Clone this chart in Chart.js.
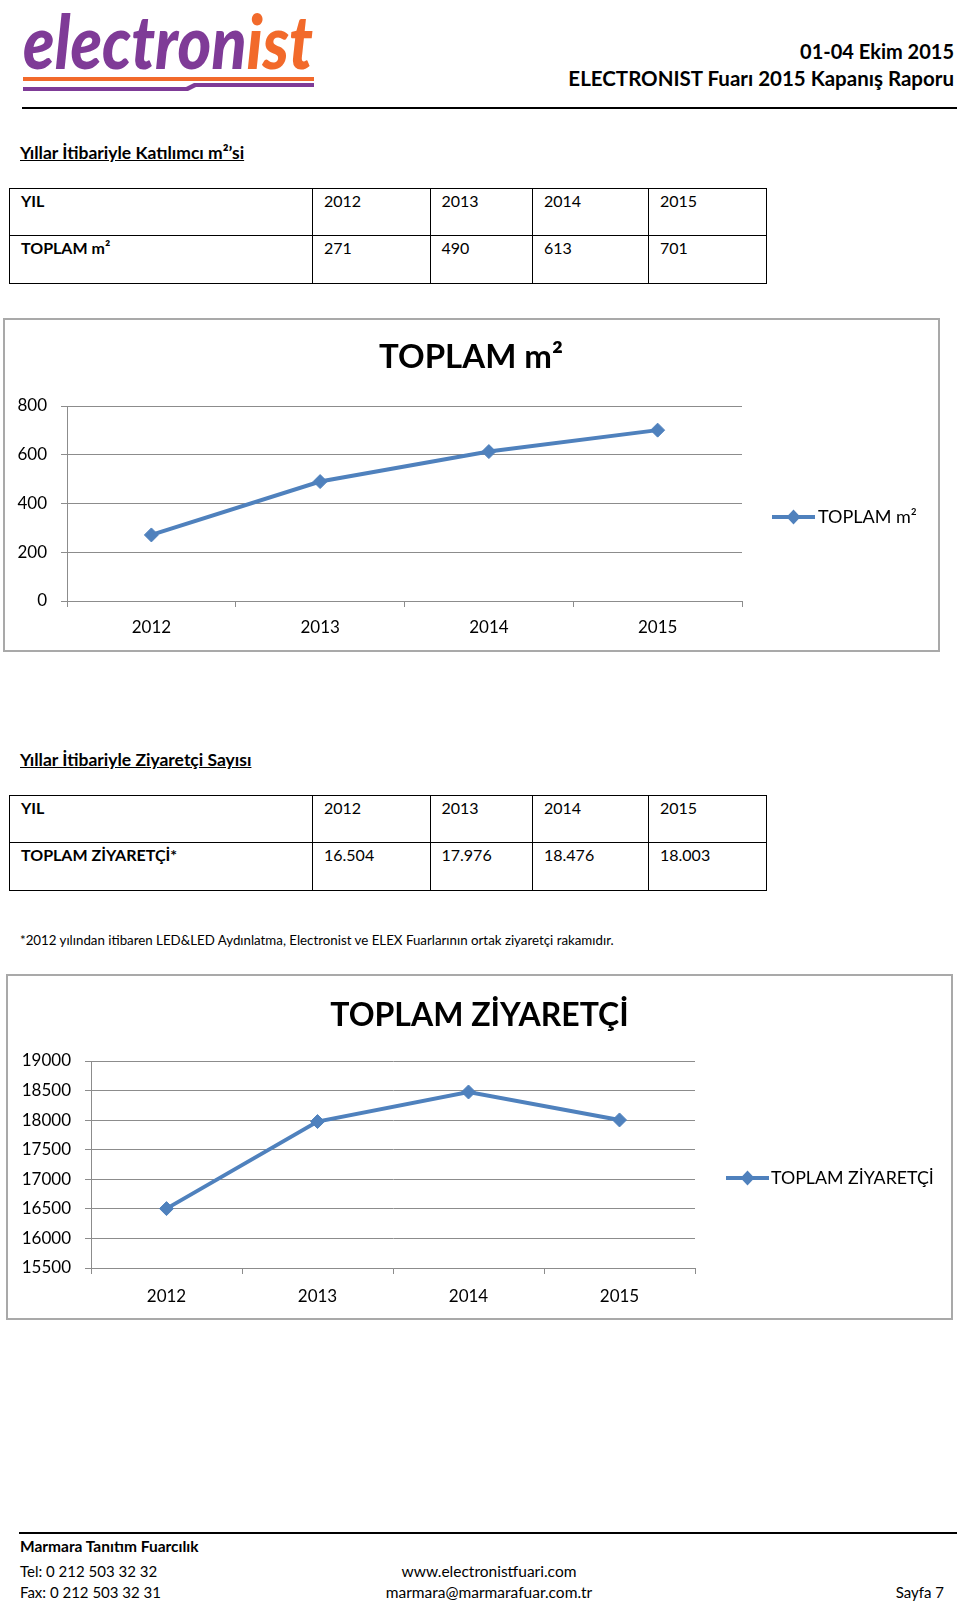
<!DOCTYPE html>
<html lang="tr">
<head>
<meta charset="utf-8">
<title>ELECTRONIST Fuarı 2015 Kapanış Raporu</title>
<script src="https://cdn.jsdelivr.net/npm/chart.js@4.4.1/dist/chart.umd.min.js"></script>
<style>
  body { margin: 0; background: #fff; }
  #page { position: relative; width: 960px; height: 1604px; overflow: hidden; font-family: Lato, "Open Sans", sans-serif; color: #000; }
  .txt { position: absolute; white-space: nowrap; line-height: 1.2; }
  .bold { font-weight: bold; }
  .rule { position: absolute; background: #000; }
  .frame { position: absolute; box-sizing: border-box; border: 2px solid #a9a9a9; }
  canvas { position: absolute; }
  table { position: absolute; border-collapse: collapse; font-size: 16px; }
  td { border: 1px solid #000; padding: 2px 11px 0 11px; vertical-align: top; line-height: 1.2; box-sizing: border-box; }
</style>
</head>
<body>
<div id="page">
  <svg style="position:absolute;left:0;top:0" width="340" height="100">
    <text x="23" y="69" font-family="Lato" font-weight="900" font-style="italic" font-size="74" textLength="290" lengthAdjust="spacingAndGlyphs" fill="#7f3b97">electron<tspan fill="#f26a2b">ist</tspan></text>
    <rect x="23" y="77" width="291" height="4" fill="#f26a2b"/>
    <path d="M23 87 L186 87 L194 83 L314 83 L314 87 L196 87 L188 91 L23 91 Z" fill="#7f3b97"/>
  </svg>
  <div class="txt bold" style="right:6px;top:39px;font-size:20px">01-04 Ekim 2015</div>
  <div class="txt bold" style="right:6px;top:66px;font-size:20.5px">ELECTRONIST Fuarı 2015 Kapanış Raporu</div>
  <div class="rule" style="left:22px;top:107px;width:935px;height:2px"></div>

  <div class="txt bold" style="left:20px;top:142px;font-size:17.5px;text-decoration:underline">Yıllar İtibariyle Katılımcı m²’si</div>
  <table id="areaTable" style="left:9px;top:188px"></table>

  <div class="frame" style="left:3px;top:318px;width:937px;height:334px"></div>
  <canvas id="areaChart" style="left:4px;top:319px"></canvas>

  <div class="txt bold" style="left:20px;top:749px;font-size:17.5px;text-decoration:underline">Yıllar İtibariyle Ziyaretçi Sayısı</div>
  <table id="visitorTable" style="left:9px;top:795px"></table>
  <div class="txt" style="left:20px;top:933px;font-size:13.3px">*2012 yılından itibaren LED&amp;LED Aydınlatma, Electronist ve ELEX Fuarlarının ortak ziyaretçi rakamıdır.</div>

  <div class="frame" style="left:6px;top:974px;width:947px;height:346px"></div>
  <canvas id="visitorChart" style="left:7px;top:975px"></canvas>

  <div class="rule" style="left:19px;top:1532px;width:938px;height:2px"></div>
  <div class="txt bold" style="left:20px;top:1537px;font-size:15.5px">Marmara Tanıtım Fuarcılık</div>
  <div class="txt" style="left:20px;top:1562px;font-size:15px">Tel: 0 212 503 32 32</div>
  <div class="txt" style="left:20px;top:1583px;font-size:15px">Fax: 0 212 503 32 31</div>
  <div class="txt" style="left:489px;top:1562px;font-size:15.5px;transform:translateX(-50%)">www.electronistfuari.com</div>
  <div class="txt" style="left:489px;top:1583px;font-size:15.5px;transform:translateX(-50%)">marmara@marmarafuar.com.tr</div>
  <div class="txt" style="right:16px;top:1583px;font-size:15px">Sayfa 7</div>
</div>

<script>
// Data
const years = ['2012', '2013', '2014', '2015'];
const areaValues = [271, 490, 613, 701];
const visitorValues = [16504, 17976, 18476, 18003];
const areaTicks = [0, 200, 400, 600, 800];
const visitorTicks = [15500, 16000, 16500, 17000, 17500, 18000, 18500, 19000];
const areaLabel = 'TOPLAM m²';
const visitorLabel = 'TOPLAM ZİYARETÇİ';

const BLUE = '#4f81bd';
const GRID = '#8c8c8c';
const colWidths = [303, 117.5, 102.5, 116, 118];

Chart.defaults.font.family = 'Lato, "Open Sans", sans-serif';
Chart.defaults.color = '#000';

// Fill a two row table: years on top, values below
function fillTable(id, rowName, values) {
  const table = document.getElementById(id);
  const rows = [['YIL'].concat(years), [rowName].concat(values)];
  rows.forEach((cells, r) => {
    const tr = document.createElement('tr');
    tr.style.height = (r === 0 ? 47 : 48) + 'px';
    cells.forEach((text, c) => {
      const td = document.createElement('td');
      td.textContent = text;
      td.style.width = colWidths[c] + 'px';
      if (c === 0) td.style.fontWeight = 'bold';
      tr.appendChild(td);
    });
    table.appendChild(tr);
  });
}

fillTable('areaTable', 'TOPLAM m²', areaValues.map(String));
fillTable('visitorTable', 'TOPLAM ZİYARETÇİ*', visitorValues.map(v => (v / 1000).toFixed(3)));

// Legend symbol: short line with a diamond, as in Excel
function legendIcon() {
  const c = document.createElement('canvas');
  c.width = 43;
  c.height = 16;
  const g = c.getContext('2d');
  g.strokeStyle = BLUE;
  g.lineWidth = 4;
  g.beginPath();
  g.moveTo(0, 8);
  g.lineTo(43, 8);
  g.stroke();
  g.fillStyle = BLUE;
  g.beginPath();
  g.moveTo(21.5, 0.5);
  g.lineTo(28.5, 8);
  g.lineTo(21.5, 15.5);
  g.lineTo(14.5, 8);
  g.closePath();
  g.fill();
  return c;
}

// Excel style legend to the right of the plot.
// (the built in legend box gets clamped to a quarter of the canvas width)
const sideLegend = {
  id: 'sideLegend',
  afterDraw(chart, args, opts) {
    const ctx = chart.ctx;
    const x = chart.chartArea.right + opts.gap;
    ctx.save();
    ctx.drawImage(legendIcon(), x, opts.y - 8);
    ctx.fillStyle = '#000';
    ctx.font = opts.size + 'px ' + Chart.defaults.font.family;
    ctx.textBaseline = 'middle';
    ctx.fillText(chart.data.datasets[0].label, x + opts.textGap, opts.y);
    ctx.restore();
  }
};

// g: canvas size and wanted plot area (canvas coordinates)
function makeChart(id, label, values, ticks, g) {
  const canvas = document.getElementById(id);
  canvas.width = g.w;
  canvas.height = g.h;

  return new Chart(canvas.getContext('2d'), {
    type: 'line',
    plugins: [sideLegend],
    data: {
      labels: years,
      datasets: [{
        label: label,
        data: values,
        borderColor: BLUE,
        backgroundColor: BLUE,
        borderWidth: 4,
        tension: 0,
        pointStyle: 'rectRot',
        pointRadius: 7,
        pointHoverRadius: 7,
        pointBorderWidth: 1
      }]
    },
    options: {
      responsive: false,
      animation: false,
      events: [],
      plugins: {
        tooltip: { enabled: false },
        legend: { display: false },
        sideLegend: { gap: g.legendGap, textGap: g.textGap, size: g.legendSize, y: g.legendY },
        title: {
          display: true,
          text: label,
          color: '#000',
          font: { size: g.titleSize, weight: 'bold' },
          padding: { top: g.titleTop, bottom: g.top - g.titleTop - g.titleSize * 1.2 }
        }
      },
      scales: {
        x: {
          offset: true,
          grid: { offset: true, drawOnChartArea: false, tickLength: 6, color: GRID },
          border: { color: GRID },
          ticks: { color: '#000', font: { size: 17 }, padding: g.xPad, maxRotation: 0 },
          afterFit: s => { s.height = g.h - g.bottom; }
        },
        y: {
          min: ticks[0],
          max: ticks[ticks.length - 1],
          afterBuildTicks: s => { s.ticks = ticks.map(v => ({ value: v })); },
          grid: { color: GRID, tickLength: 6 },
          border: { color: GRID },
          ticks: { color: '#000', font: { size: 17 }, padding: 14, callback: v => String(v) },
          afterFit: s => { s.width = g.left; }
        },
        // empty right side box that keeps room for the legend
        side: {
          position: 'right',
          grid: { display: false },
          border: { display: false },
          ticks: { display: false },
          afterFit: s => { s.width = g.w - g.right; }
        }
      }
    }
  });
}

makeChart('areaChart', areaLabel, areaValues, areaTicks,
  { w: 934, h: 332, left: 63, right: 738, top: 87, bottom: 282, titleSize: 33, titleTop: 19, xPad: 10,
    legendGap: 30, textGap: 46, legendSize: 18, legendY: 198 });

makeChart('visitorChart', visitorLabel, visitorValues, visitorTicks,
  { w: 945, h: 344, left: 84, right: 688, top: 86, bottom: 293, titleSize: 32, titleTop: 21, xPad: 12.5,
    legendGap: 31, textGap: 45, legendSize: 17.8, legendY: 203 });
</script>
</body>
</html>
